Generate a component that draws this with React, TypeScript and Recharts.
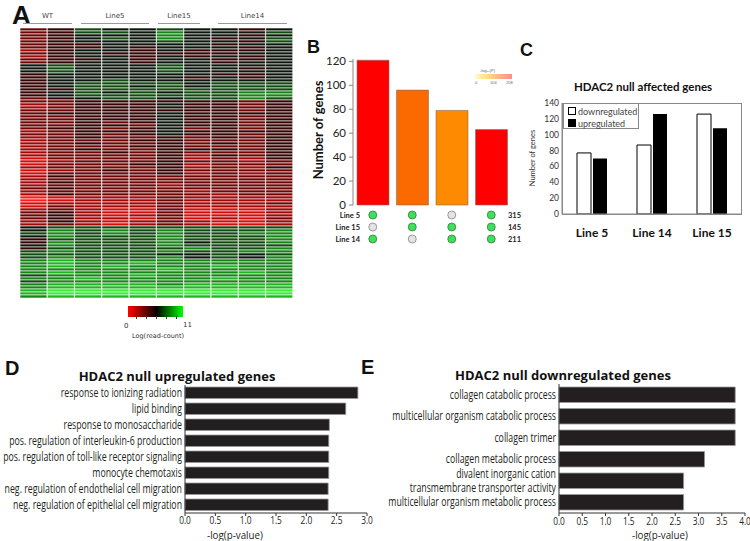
import { BarChart, Bar, XAxis, YAxis, Cell, ScatterChart, Scatter } from 'recharts'

// ─── Panel A: heatmap ────────────────────────────────────────────────────────
const HEAT_SAMPLES = ['WT-1', 'WT-2', 'L5-1', 'L5-2', 'L5-3', 'L15-1', 'L15-2', 'L14-1', 'L14-2', 'L14-3']
const HEAT_GROUPS = ['WT', 'Line5', 'Line15', 'Line14']
// one string per gene, one digit per sample: 0 = low (red) ... 9 = high (green)
const HEAT_ROWS = [
  '3465565545', '3466575556', '3455575545', '3456575456', '3455565546', '3445555455', '3445455545',
  '2455454445', '3454444455', '2455454545', '3445455445', '3455455455',
  '5655565555', '5655565545', '5655565555', '4555555445', '4555554545', '4556555555',
  '4566665666', '4566565666', '4466666666', '4565656677', '4566666677', '3456656676',
  '3344444434', '2344454434', '2344454434', '3344444434', '3444454444', '3344454434',
  '3344454434', '3343454434', '3344354434', '3443453434', '2344454444', '3343454434',
  '2343343434', '2333443334', '2343343434', '2333443334', '2343344434', '2334343334', '2333342434',
  '1333342324', '1233343323', '1333442333', '2333342324', '1234343333', '1333342323',
  '2433333333', '2333333333', '2433333333', '2333323333', '3433333333', '2333332333', '2433333233',
  '0122232222', '0122232222', '1222232223', '1322232222',
  '2321131112', '3421131112', '3421231112', '3422131213', '2421232112', '2321232112',
  '5666666666', '5767676667', '6767676677', '5766676667', '4666676667', '4766675667',
  '5766676666', '4666667667', '6766676677', '6666655656', '6766675657',
  '7877777777', '7877877777', '7878777877', '7777787777', '7877777787',
  '6777877777', '7787777877', '6777777777', '7888878888', '7888888888',
  '8999999999', '8999999999', '7888888888',
]
const HEAT_PALETTE = [
  '#ff1a1a', '#d40c0c', '#a00707', '#6e0505', '#340303',
  '#0c160c', '#104a10', '#178417', '#1fb51f', '#33f033',
]

// ─── Panel B: overlap of affected genes ──────────────────────────────────────
const B_SETS = ['5+14', '5+15', '15+14', '5+15+14']
const B_COUNTS = [121, 96, 79, 63]
const B_COLORS = ['#fe0000', '#fb6a00', '#fd8a00', '#fe0000']
const B_LINES = ['Line 5', 'Line 15', 'Line 14']
const B_LINE_TOTALS = [315, 145, 211]
const B_MEMBERSHIP = [
  [1, 1, 0, 1],
  [0, 1, 1, 1],
  [1, 0, 1, 1],
]

// ─── Panel C: up / down per line ─────────────────────────────────────────────
const C_LINES = ['Line 5', 'Line 14', 'Line 15']
const C_DOWN = [77, 87, 126]
const C_UP = [70, 126, 108]

// ─── Panels D / E: GO enrichment ─────────────────────────────────────────────
const D_TERMS = [
  'response to ionizing radiation',
  'lipid binding',
  'response to monosaccharide',
  'pos. regulation of interleukin-6 production',
  'pos. regulation of toll-like receptor signaling',
  'monocyte chemotaxis',
  'neg. regulation of endothelial cell migration',
  'neg. regulation of epithelial cell migration',
]
const D_SCORES = [2.85, 2.65, 2.38, 2.37, 2.37, 2.37, 2.36, 2.36]
const D_TICKS = [0, 0.5, 1, 1.5, 2, 2.5, 3]

const E_TERMS = [
  'collagen catabolic process',
  'multicellular organism catabolic process',
  'collagen trimer',
  'collagen metabolic process',
  'divalent inorganic cation\ntransmembrane transporter activity',
  'multicellular organism metabolic process',
]
const E_SCORES = [3.79, 3.79, 3.79, 3.13, 2.68, 2.68]
const E_TICKS = [0, 0.5, 1, 1.5, 2, 2.5, 3, 3.5, 4]

const HUMANIST = "'Open Sans', 'Noto Sans', sans-serif"
const CALIBRI = "Lato, 'Open Sans', sans-serif"
const ARIAL = "'Liberation Sans', Arial, sans-serif"

const heatData = HEAT_SAMPLES.map(s => {
  const o: Record<string, any> = { sample: s }
  HEAT_ROWS.forEach((_, r) => { o['g' + r] = 1 })
  return o
})
const bData = B_SETS.map((s, i) => ({ set: s, n: B_COUNTS[i] }))
const dotData = B_LINES.flatMap((_, li) =>
  B_SETS.map((_, si) => ({ x: si, y: li, on: B_MEMBERSHIP[li][si] })))
const cData = C_LINES.map((l, i) => ({ line: l, down: C_DOWN[i], up: C_UP[i] }))
const dData = D_TERMS.map((t, i) => ({ term: t, v: D_SCORES[i] }))
const eData = E_TERMS.map((t, i) => ({ term: t, v: E_SCORES[i] }))

function abs(left: number, top: number, extra: React.CSSProperties = {}): React.CSSProperties {
  return { position: 'absolute', left, top, ...extra }
}

// condensed look: regular face squeezed horizontally
function TermTick({ x, y, payload }: any) {
  const lines = String(payload.value).split('\n')
  const first = 0.35 - 0.57 * (lines.length - 1)
  return (
    <text transform={`translate(${x},${y}) scale(0.73,1)`} x={0} y={0} textAnchor="end"
      fontSize={12} fontFamily={HUMANIST} fill="#231f20">
      {lines.map((l, i) => (
        <tspan key={i} x={0} dy={i === 0 ? `${first}em` : '1.14em'}>{l}</tspan>
      ))}
    </text>
  )
}

function ValueTick({ x, y, payload }: any) {
  return (
    <text transform={`translate(${x},${y}) scale(0.76,1)`} x={0} y={0} dy="0.71em" textAnchor="middle"
      fontSize={11} fontFamily={HUMANIST} fill="#231f20">
      {Number(payload.value).toFixed(1)}
    </text>
  )
}

function DotRowTick({ x, y, payload }: any) {
  const i = payload.value as number
  return (
    <g>
      <text x={x + 7} y={y} dy="0.35em" textAnchor="end" fontSize={7.5} fontWeight={700} fontFamily={CALIBRI} fill="#222">
        {B_LINES[i]}
      </text>
      <text x={x + 155} y={y} dy="0.35em" textAnchor="start" fontSize={7.5} fontWeight={700} fontFamily={CALIBRI} fill="#222">
        {B_LINE_TOTALS[i]}
      </text>
    </g>
  )
}

function Dot({ cx, cy, payload }: any) {
  return (
    <circle cx={cx} cy={cy} r={4} fill={payload.on ? '#3de05a' : '#e4e4e4'}
      stroke={payload.on ? '#3a6a3a' : '#777'} strokeWidth={0.7} />
  )
}

function CLegend() {
  const item = (fill: string, label: string) => (
    <div style={{ display: 'flex', alignItems: 'center', height: 12 }}>
      <span style={{ width: 6, height: 6, background: fill, border: '1px solid #000', marginRight: 2 }} />
      <span>{label}</span>
    </div>
  )
  return (
    <div style={abs(563, 103, {
      width: 76, height: 26, boxSizing: 'border-box', border: '1px solid #888', background: '#fff',
      padding: '1px 0 0 4px', fontFamily: CALIBRI, fontSize: 9, color: '#444', lineHeight: 1,
    })}>
      {item('#fff', 'downregulated')}
      {item('#000', 'upregulated')}
    </div>
  )
}

const letter = (t: string, left: number, top: number, size: number) => (
  <div style={abs(left, top, { fontFamily: ARIAL, fontWeight: 700, fontSize: size, lineHeight: 1, color: '#111' })}>{t}</div>
)

export default function App() {
  return (
    <div style={{ position: 'absolute', left: 0, top: 0, width: 750, height: 541, background: '#fff', overflow: 'hidden' }}>
      {letter('A', 12, 2, 26)}
      {letter('B', 307, 38, 18)}
      {letter('C', 520, 41, 18)}
      {letter('D', 5, 358, 20)}
      {letter('E', 361, 357, 20)}

      {/* ── A: group headers ── */}
      {[
        [23, 72], [81, 149], [158, 200], [218, 287],
      ].map(([x0, x1], i) => (
        <div key={i}>
          <div style={abs(x0, 13, { width: x1 - x0, textAlign: 'center', fontSize: 7, fontFamily: "'DejaVu Sans', sans-serif", color: '#444', lineHeight: 1 })}>
            {HEAT_GROUPS[i]}
          </div>
          <div style={abs(x0, 23, { width: x1 - x0, height: 1, background: '#999' })} />
        </div>
      ))}

      {/* ── A: heatmap ── */}
      <div style={abs(20, 28)}>
        <BarChart width={273} height={270} data={heatData} margin={{ top: 0, right: 0, left: 0, bottom: 0 }}
          barCategoryGap={0} barGap={0}>
          <XAxis dataKey="sample" hide />
          <YAxis hide reversed domain={[0, HEAT_ROWS.length]} />
          {HEAT_ROWS.map((row, r) => (
            <Bar key={r} dataKey={'g' + r} stackId="h" isAnimationActive={false}
              stroke="#ffffff" strokeWidth={0.8} strokeOpacity={0.75}>
              {HEAT_SAMPLES.map((_, c) => (
                <Cell key={c} fill={HEAT_PALETTE[Number(row[c])]} />
              ))}
            </Bar>
          ))}
        </BarChart>
      </div>

      {/* ── A: colour key ── */}
      <div style={abs(128, 306, { width: 55, height: 11, background: 'linear-gradient(to right, #ff0000, #200000 48%, #000 52%, #00ff00)' })} />
      {[136, 146, 156, 166, 176].map(x => (
        <div key={x} style={abs(x, 316, { width: 1, height: 3, background: '#333' })} />
      ))}
      <div style={abs(124, 322, { fontSize: 7, fontFamily: "'DejaVu Sans', sans-serif", color: '#333' })}>0</div>
      <div style={abs(183, 321, { fontSize: 7, fontFamily: "'DejaVu Sans', sans-serif", color: '#333' })}>11</div>
      <div style={abs(132, 332, { fontSize: 6.5, fontFamily: "'DejaVu Sans', sans-serif", color: '#333' })}>Log(read-count)</div>

      {/* ── B: bars ── */}
      <div style={abs(313, 49)}>
        <BarChart width={200} height={164} data={bData} margin={{ top: 10, right: 2, left: 0, bottom: 8 }} barCategoryGap={4}>
          <XAxis dataKey="set" hide />
          <YAxis width={40} domain={[0, 122]} ticks={[0, 20, 40, 60, 80, 100, 120]} interval={0}
            axisLine={{ stroke: '#888' }} tickLine={{ stroke: '#888' }} tickSize={4} tickMargin={3}
            tick={{ fontSize: 11.5, fill: '#222', fontFamily: CALIBRI }} />
          <Bar dataKey="n" barSize={32} isAnimationActive={false} stroke="#8a6a5a" strokeWidth={0.6}>
            {B_COUNTS.map((_, i) => <Cell key={i} fill={B_COLORS[i]} />)}
          </Bar>
        </BarChart>
      </div>
      <div style={abs(318, 130, {
        transform: 'translate(-50%, -50%) rotate(-90deg)', fontSize: 13, fontWeight: 700,
        fontFamily: CALIBRI, color: '#111', whiteSpace: 'nowrap',
      })}>Number of genes</div>

      {/* ── B: p-value key ── */}
      <div style={abs(480, 68, { fontSize: 4, color: '#666', fontFamily: ARIAL })}>-log₁₀(P)</div>
      <div style={abs(475, 74, { width: 37, height: 5, background: 'linear-gradient(to right, #fffad0, #ffe07a, #ffb090, #ff8c8c)' })} />
      <div style={abs(475, 80, { fontSize: 4, color: '#666', fontFamily: ARIAL })}>0</div>
      <div style={abs(490, 80, { fontSize: 4, color: '#666', fontFamily: ARIAL })}>104</div>
      <div style={abs(506, 80, { fontSize: 4, color: '#666', fontFamily: ARIAL })}>208</div>

      {/* ── B: membership dots ── */}
      <div style={abs(303, 209)}>
        <ScatterChart width={238} height={40} margin={{ top: 0, right: 30, left: 0, bottom: 4 }}>
          <XAxis type="number" dataKey="x" domain={[-0.5, 3.5]} hide />
          <YAxis type="number" dataKey="y" domain={[-0.5, 2.5]} reversed ticks={[0, 1, 2]} interval={0} width={50}
            axisLine={false} tickLine={false} tickSize={0} tickMargin={0} tick={<DotRowTick />} />
          <Scatter data={dotData} shape={<Dot />} isAnimationActive={false} />
        </ScatterChart>
      </div>

      {/* ── C ── */}
      <div style={abs(520, 80, { width: 246, textAlign: 'center', fontSize: 11.5, fontWeight: 700, fontFamily: CALIBRI, color: '#111' })}>
        HDAC2 null affected genes
      </div>
      <div style={abs(520, 93)}>
        <BarChart width={230} height={147} data={cData} margin={{ top: 10, right: 8, left: 0, bottom: 0 }}
          barGap={2}>
          <XAxis dataKey="line" height={26} axisLine={{ stroke: '#888' }} tickLine={false} tickMargin={8}
            tick={{ fontSize: 12, fontWeight: 700, fill: '#111', fontFamily: CALIBRI }} />
          <YAxis width={42} domain={[0, 140]} ticks={[0, 20, 40, 60, 80, 100, 120, 140]} interval={0}
            axisLine={{ stroke: '#888' }} tickLine={false} tickSize={0} tickMargin={3}
            tick={{ fontSize: 8.5, fill: '#333', fontFamily: CALIBRI }} />
          <Bar dataKey="down" name="downregulated" barSize={14} fill="#ffffff" stroke="#000" strokeWidth={1} isAnimationActive={false} />
          <Bar dataKey="up" name="upregulated" barSize={14} fill="#000000" isAnimationActive={false} />
        </BarChart>
      </div>
      <div style={abs(562, 103, { width: 180, height: 112, boxSizing: 'border-box', border: '1px solid #888', pointerEvents: 'none' })} />
      <CLegend />
      <div style={abs(533, 158, {
        transform: 'translate(-50%, -50%) rotate(-90deg)', fontSize: 7.5, fontFamily: CALIBRI, color: '#333',
        whiteSpace: 'nowrap', lineHeight: 1,
      })}>Number of genes</div>

      {/* ── D ── */}
      <div style={abs(72, 369, { width: 210, textAlign: 'center', fontSize: 13, fontWeight: 700, fontFamily: HUMANIST, color: '#111', lineHeight: 1.2 })}>
        HDAC2 null upregulated genes
      </div>
      <div style={abs(0, 375)}>
        <BarChart width={375} height={158} data={dData} layout="vertical" margin={{ top: 10, right: 8, left: 0, bottom: 0 }}>
          <XAxis type="number" domain={[0, 3]} ticks={D_TICKS} interval={0} height={20}
            axisLine={{ stroke: '#333' }} tickLine={{ stroke: '#333' }} tickSize={3} tickMargin={0} tick={<ValueTick />} />
          <YAxis type="category" dataKey="term" width={185} axisLine={{ stroke: '#333' }} tickLine={false}
            tickSize={0} tickMargin={3} tick={<TermTick />} interval={0} />
          <Bar dataKey="v" barSize={11.5} fill="#231f20" stroke="#9a9a9a" strokeWidth={0.8} isAnimationActive={false} />
        </BarChart>
      </div>
      <div style={abs(207, 529, { fontSize: 11.5, lineHeight: 1, fontFamily: HUMANIST, color: '#231f20', transform: 'scaleX(0.85)', transformOrigin: 'left' })}>-log(p-value)</div>

      {/* ── E ── */}
      <div style={abs(453, 368, { width: 220, textAlign: 'center', fontSize: 13, fontWeight: 700, fontFamily: HUMANIST, color: '#111', lineHeight: 1.2 })}>
        HDAC2 null downregulated genes
      </div>
      <div style={abs(370, 375)}>
        <BarChart width={380} height={158} data={eData} layout="vertical" margin={{ top: 9, right: 5, left: 0, bottom: 0 }}>
          <XAxis type="number" domain={[0, 4]} ticks={E_TICKS} interval={0} height={20}
            axisLine={{ stroke: '#333' }} tickLine={{ stroke: '#333' }} tickSize={3} tickMargin={1} tick={<ValueTick />} />
          <YAxis type="category" dataKey="term" width={189} axisLine={{ stroke: '#333' }} tickLine={false}
            tickSize={0} tickMargin={3} tick={<TermTick />} interval={0} />
          <Bar dataKey="v" barSize={15.5} fill="#231f20" stroke="#9a9a9a" strokeWidth={0.8} isAnimationActive={false} />
        </BarChart>
      </div>
      <div style={abs(632, 529, { fontSize: 11.5, lineHeight: 1, fontFamily: HUMANIST, color: '#231f20', transform: 'scaleX(0.85)', transformOrigin: 'left' })}>-log(p-value)</div>
    </div>
  )
}
